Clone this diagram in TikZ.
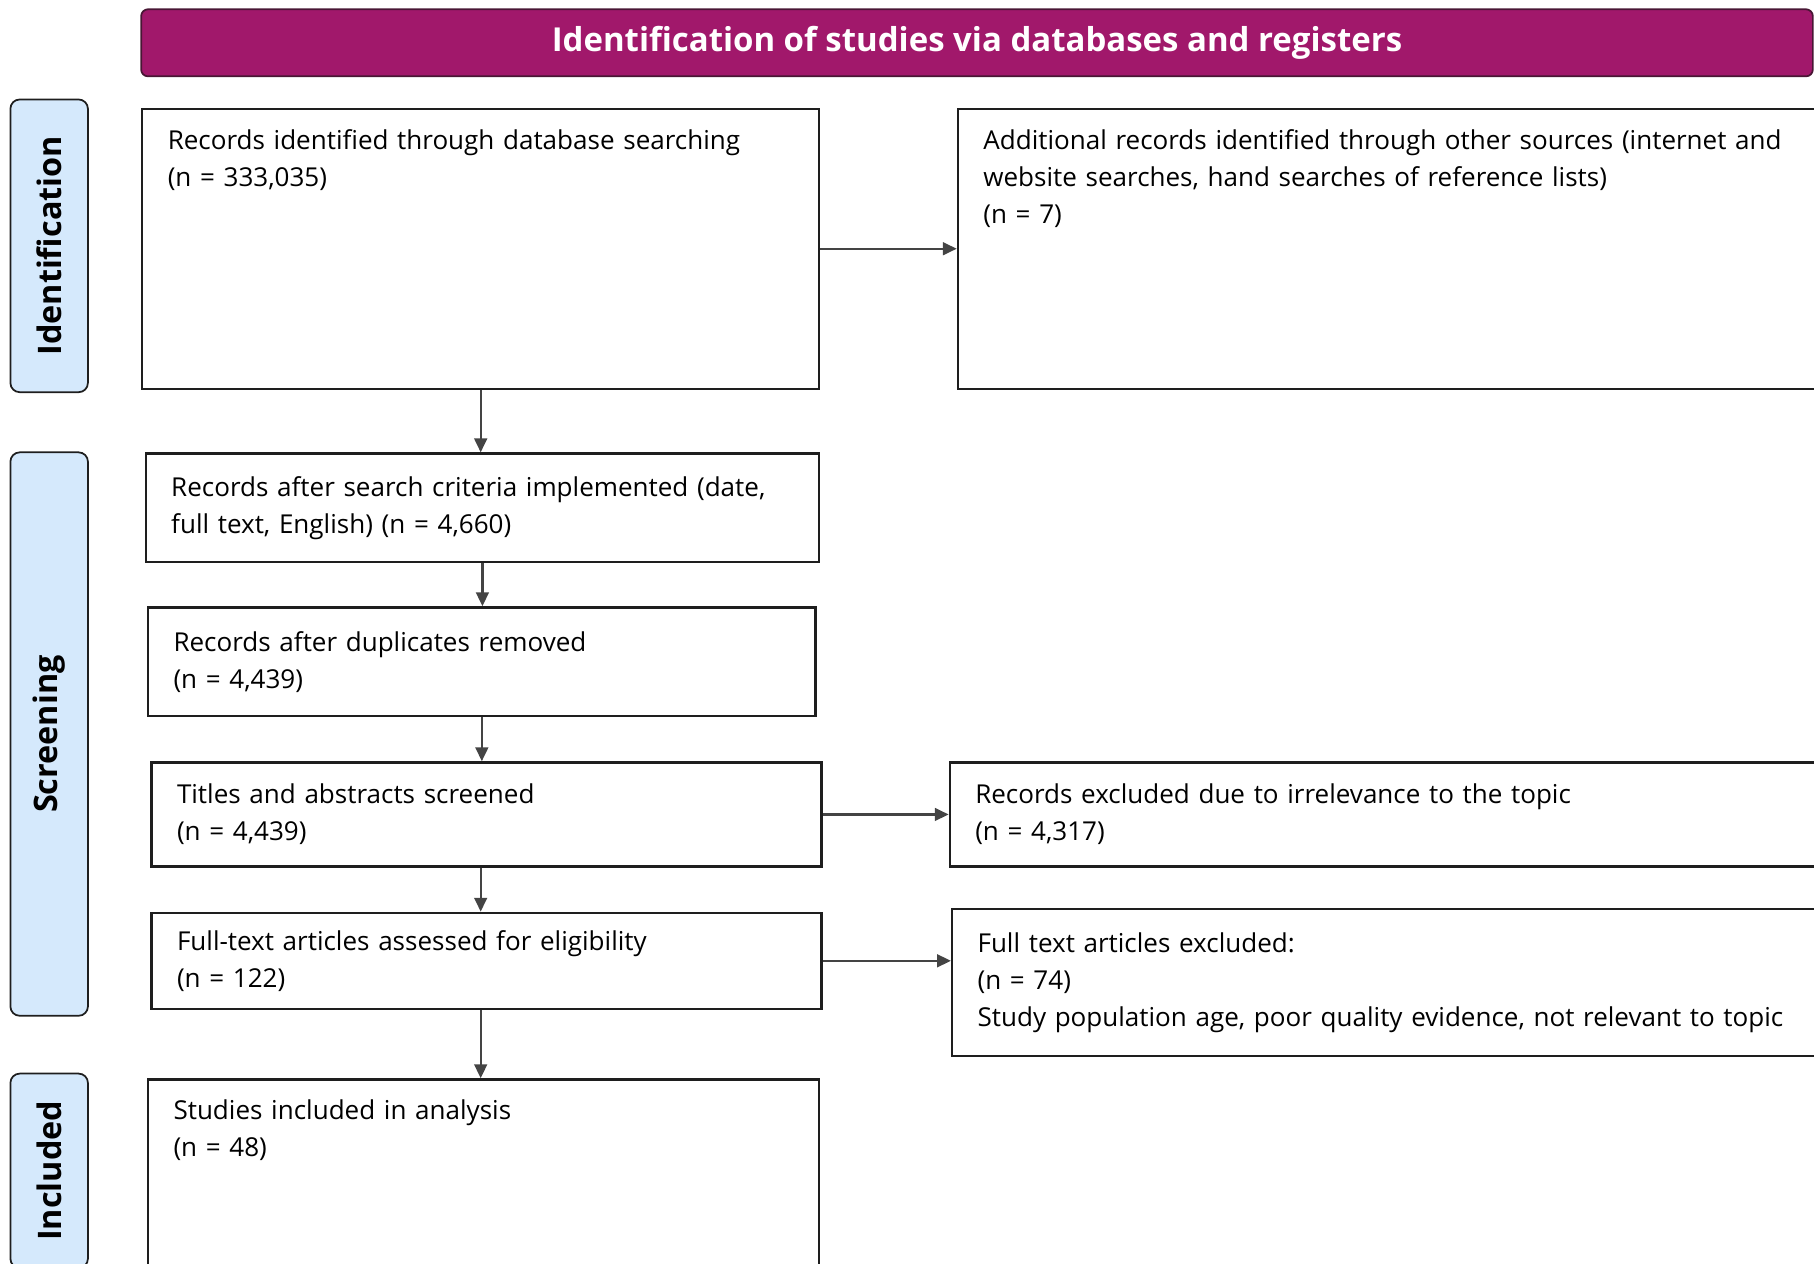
\documentclass[tikz,border=0pt]{standalone}
\usepackage{fontspec}
\setmainfont{Open Sans}
\usepackage{xcolor}
\usepackage{tikz}
\usetikzlibrary{positioning, arrows.meta}
\definecolor{headpurple}{RGB}{161, 24, 107}
\definecolor{headborder}{RGB}{72, 22, 52}
\definecolor{phaseblue}{RGB}{213, 233, 252}
\definecolor{darkgray}{RGB}{30, 30, 30}
\definecolor{arrowgray}{RGB}{68, 68, 68}

\begin{document}
\begin{tikzpicture}[x=1pt, y=-1pt,
    header/.style={rectangle, draw=headborder, fill=headpurple, line width=1.5pt, rounded corners=6pt, text=white, minimum width=1445pt, minimum height=58pt, font=\fontsize{28.5}{30}\selectfont\bfseries},
    phase/.style={rectangle, draw=darkgray, fill=phaseblue, line width=1.5pt, rounded corners=8pt, rotate=90, minimum height=67pt, inner sep=0pt, font=\fontsize{28}{30}\selectfont\bfseries},
    block/.style={rectangle, draw=darkgray, line width=2pt, anchor=north west, align=left, inner xsep=22pt, inner ysep=10pt, font=\fontsize{22.5}{32}\selectfont},
    tallblock/.style={block, text height=25pt, text depth=#1},
    line/.style={draw=arrowgray, line width=2pt, -{Triangle[length=12pt, width=11pt]}}]

    \useasboundingbox (0,0) rectangle (1568,1092);

    % banner and phase labels
    \node [header] (banner) at (844.5,37) {Identification of studies via databases and registers};
    \node [phase, minimum width=253pt] (phaseid) at (42.5,212.5) {Identification};
    \node [phase, minimum width=487pt] (phasescr) at (42.5,634.5) {Screening};
    \node [phase, minimum width=168pt] (phaseinc) at (42.5,1012) {Included};

    % flow boxes
    \node [tallblock=197pt, text width=541pt] (dbrec) at (122,93) {Records identified through database searching\\(n = 333,035)};
    \node [tallblock=197pt, text width=716pt] (otherrec) at (827,93) {Additional records identified through other sources (internet and\\website searches, hand searches of reference lists)\\(n = 7)};
    \node [block, text width=538pt, minimum height=94pt] (criteria) at (125,391) {Records after search criteria implemented (date,\\full text, English) (n = 4,660)};
    \node [block, text width=533pt, minimum height=94pt] (dedup) at (127,524) {Records after duplicates removed\\(n = 4,439)};
    \node [block, text width=535pt, minimum height=90pt] (screened) at (130,658) {Titles and abstracts screened\\(n = 4,439)};
    \node [block, text width=716pt, minimum height=90pt] (excl1) at (820,658) {Records excluded due to irrelevance to the topic\\(n = 4,317)};
    \node [block, text width=535pt, minimum height=83pt] (fulltext) at (130,788) {Full-text articles assessed for eligibility\\(n = 122)};
    \node [block, text width=716pt, minimum height=127pt] (excl2) at (822,785) {Full text articles excluded:\\(n = 74)\\Study population age, poor quality evidence, not relevant to topic};
    \node [tallblock=157pt, text width=536pt] (included) at (127,932) {Studies included in analysis\\(n = 48)};

    \path [line] (dbrec.east) -- (otherrec.west);
    \path [line] (dbrec.south) -- (dbrec.south |- criteria.north);
    \path [line] (criteria.south) -- (criteria.south |- dedup.north);
    \path [line] (dedup.south) -- (dedup.south |- screened.north);
    \path [line] (screened.east) -- (excl1.west);
    \path [line] ([xshift=-5pt]screened.south) -- ([xshift=-5pt]screened.south |- fulltext.north);
    \path [line] (fulltext.east) -- (fulltext.east -| excl2.west);
    \path [line] ([xshift=-5pt]fulltext.south) -- ([xshift=-5pt]fulltext.south |- included.north);
\end{tikzpicture}
\end{document}
